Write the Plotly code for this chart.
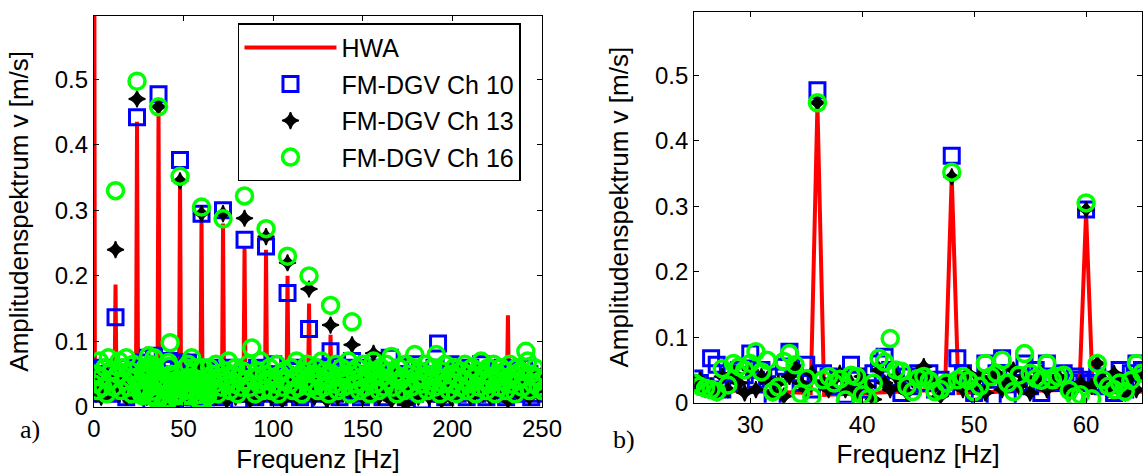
import plotly.graph_objects as go

# frequency grids [Hz]: coarse below 25 Hz, 0.5 Hz in the zoom window, 1 Hz above
freq_low = [f for f in range(0, 25)]
freq_zoom = [25 + 0.5 * i for i in range(81)]
freq_high = [f for f in range(66, 251)]

# HWA reference spectrum
hwa_freq = [0, 0.5, 11.4, 12, 12.6, 23.4, 24, 24.6, 35.4, 36, 36.6, 47.4, 48, 48.6,
            59.4, 60, 60.6, 71.4, 72, 72.6, 83.4, 84, 84.6, 95.4, 96, 96.6, 107.4, 108, 108.6,
            119.4, 120, 120.6, 131.4, 132, 132.6, 143.4, 144, 144.6, 155.4, 156, 156.6,
            211.4, 212, 212.6, 230.4, 231, 231.6, 250]
hwa_amp = [1.0, 0.02, 0.015, 0.187, 0.015, 0.02, 0.435, 0.02, 0.015, 0.455, 0.012, 0.02, 0.345, 0.015,
           0.02, 0.29, 0.015, 0.02, 0.28, 0.015, 0.02, 0.245, 0.015, 0.02, 0.24, 0.015, 0.02, 0.2, 0.015,
           0.02, 0.158, 0.015, 0.02, 0.11, 0.015, 0.02, 0.07, 0.015, 0.02, 0.055, 0.015,
           0.02, 0.06, 0.015, 0.02, 0.14, 0.015, 0.02]

# FM-DGV channel 10
ch10_low = [0.04, 0.03, 0.05, 0.02, 0.035, 0.06, 0.025, 0.045, 0.03, 0.05, 0.02, 0.04, 0.137,
            0.03, 0.05, 0.025, 0.04, 0.06, 0.015, 0.035, 0.045, 0.02, 0.05, 0.03, 0.442]
ch10_zoom = [0.037, 0.03, 0.025, 0.068, 0.058, 0.02, 0.045, 0.03, 0.05, 0.042,
             0.075, 0.035, 0.05, 0.028, 0.007, 0.04, 0.055, 0.078, 0.045, 0.03,
             0.058, 0.02, 0.477, 0.045, 0.04, 0.025, 0.035, 0.012, 0.058, 0.04,
             0.02, 0.03, 0.045, 0.06, 0.07, 0.05, 0.03, 0.015, 0.04, 0.025,
             0.045, 0.03, 0.045, 0.02, 0.035, 0.025, 0.377, 0.068, 0.045, 0.03,
             0.015, 0.008, 0.06, 0.035, 0.045, 0.068, 0.006, 0.04, 0.03, 0.06,
             0.025, 0.05, 0.015, 0.06, 0.04, 0.03, 0.045, 0.03, 0.04, 0.035,
             0.295, 0.03, 0.04, 0.025, 0.035, 0.015, 0.05, 0.02, 0.045, 0.06, 0.05]
ch10_high = [0.04, 0.02, 0.055, 0.03, 0.045, 0.015, 0.30, 0.035, 0.05, 0.025,
             0.04, 0.06, 0.02, 0.035, 0.05, 0.01, 0.045, 0.03, 0.255, 0.04,
             0.02, 0.055, 0.035, 0.045, 0.015, 0.06, 0.03, 0.04, 0.025, 0.05,
             0.245, 0.035, 0.02, 0.045, 0.065, 0.03, 0.04, 0.015, 0.05, 0.035,
             0.025, 0.045, 0.174, 0.03, 0.055, 0.02, 0.04, 0.06, 0.035, 0.015,
             0.045, 0.03, 0.05, 0.025, 0.119, 0.04, 0.02, 0.055, 0.035, 0.045,
             0.01, 0.04, 0.03, 0.06, 0.025, 0.045, 0.085, 0.035, 0.02, 0.05,
             0.04, 0.015, 0.055, 0.03, 0.045, 0.025, 0.04, 0.06, 0.07, 0.02,
             0.05, 0.03, 0.045, 0.015, 0.04, 0.06, 0.025, 0.035, 0.05, 0.02,
             0.06, 0.04, 0.025, 0.05, 0.03, 0.015, 0.045, 0.035, 0.055, 0.075,
             0.03, 0.04, 0.02, 0.05, 0.035, 0.06, 0.025, 0.045, 0.015, 0.04,
             0.05, 0.03, 0.065, 0.02, 0.045, 0.035, 0.055, 0.01, 0.04, 0.03,
             0.05, 0.025, 0.045, 0.035, 0.06, 0.02, 0.097, 0.04, 0.03, 0.05,
             0.015, 0.045, 0.035, 0.065, 0.025, 0.04, 0.055, 0.02, 0.035, 0.045,
             0.03, 0.05, 0.015, 0.04, 0.06, 0.025, 0.045, 0.035, 0.02, 0.05,
             0.065, 0.03, 0.04, 0.015, 0.055, 0.035, 0.045, 0.025, 0.05, 0.02,
             0.04, 0.03, 0.06, 0.035, 0.015, 0.05, 0.045, 0.025, 0.04, 0.03,
             0.055, 0.02, 0.045, 0.035, 0.06, 0.025, 0.04, 0.05, 0.015, 0.03,
             0.045, 0.035, 0.02, 0.04, 0.045]

# FM-DGV channel 13
ch13_low = [0.03, 0.02, 0.045, 0.035, 0.015, 0.04, 0.03, 0.05, 0.02, 0.035, 0.045, 0.025, 0.24,
            0.04, 0.02, 0.035, 0.05, 0.03, 0.015, 0.045, 0.025, 0.04, 0.02, 0.035, 0.47]
ch13_zoom = [0.03, 0.035, 0.02, 0.025, 0.015, 0.04, 0.02, 0.045, 0.03, 0.015,
             0.05, 0.02, 0.04, 0.035, 0.015, 0.03, 0.01, 0.04, 0.055, 0.03,
             0.02, 0.045, 0.458, 0.03, 0.02, 0.035, 0.045, 0.02, 0.03, 0.015,
             0.04, 0.025, 0.005, 0.05, 0.03, 0.02, 0.04, 0.025, 0.015, 0.035,
             0.045, 0.055, 0.03, 0.025, 0.01, 0.035, 0.345, 0.03, 0.02, 0.045,
             0.025, 0.04, 0.015, 0.035, 0.045, 0.02, 0.03, 0.05, 0.025, 0.04,
             0.015, 0.035, 0.045, 0.02, 0.03, 0.04, 0.025, 0.015, 0.02, 0.03,
             0.295, 0.025, 0.06, 0.035, 0.02, 0.045, 0.03, 0.015, 0.04, 0.02, 0.045]
ch13_high = [0.025, 0.04, 0.015, 0.05, 0.03, 0.02, 0.295, 0.045, 0.01, 0.035,
             0.02, 0.045, 0.03, 0.015, 0.04, 0.025, 0.05, 0.02, 0.288, 0.035,
             0.045, 0.01, 0.03, 0.04, 0.025, 0.05, 0.015, 0.035, 0.045, 0.02,
             0.26, 0.03, 0.045, 0.015, 0.035, 0.05, 0.02, 0.04, 0.025, 0.01,
             0.045, 0.03, 0.22, 0.04, 0.02, 0.05, 0.03, 0.015, 0.045, 0.035,
             0.02, 0.04, 0.025, 0.05, 0.18, 0.03, 0.045, 0.015, 0.04, 0.025,
             0.05, 0.02, 0.035, 0.045, 0.01, 0.03, 0.125, 0.04, 0.025, 0.045,
             0.015, 0.035, 0.05, 0.02, 0.04, 0.03, 0.045, 0.025, 0.095, 0.035,
             0.02, 0.045, 0.03, 0.05, 0.015, 0.04, 0.025, 0.035, 0.045, 0.02,
             0.082, 0.03, 0.045, 0.015, 0.04, 0.025, 0.05, 0.02, 0.035, 0.045,
             0.01, 0.04, 0.03, 0.05, 0.02, 0.035, 0.045, 0.025, 0.005, 0.04,
             0.03, 0.05, 0.02, 0.045, 0.035, 0.015, 0.04, 0.03, 0.05, 0.025,
             0.04, 0.015, 0.035, 0.05, 0.02, 0.045, 0.03, 0.04, 0.01, 0.035,
             0.05, 0.025, 0.04, 0.015, 0.045, 0.03, 0.02, 0.05, 0.035, 0.04,
             0.025, 0.045, 0.03, 0.055, 0.015, 0.04, 0.02, 0.035, 0.05, 0.03,
             0.045, 0.02, 0.04, 0.03, 0.05, 0.015, 0.035, 0.045, 0.025, 0.04,
             0.03, 0.05, 0.02, 0.045, 0.035, 0.01, 0.04, 0.025, 0.05, 0.03,
             0.04, 0.02, 0.045, 0.035, 0.055, 0.03, 0.045, 0.015, 0.04, 0.025,
             0.035, 0.05, 0.02, 0.04, 0.05]

# FM-DGV channel 16
ch16_low = [0.035, 0.05, 0.025, 0.07, 0.045, 0.03, 0.06, 0.02, 0.075, 0.04, 0.055, 0.03, 0.33,
            0.05, 0.07, 0.025, 0.06, 0.04, 0.075, 0.03, 0.055, 0.02, 0.065, 0.045, 0.497]
ch16_zoom = [0.03, 0.025, 0.022, 0.02, 0.017, 0.052, 0.027, 0.06, 0.055, 0.05,
             0.06, 0.078, 0.047, 0.065, 0.017, 0.024, 0.063, 0.075, 0.058, 0.014,
             0.037, 0.009, 0.458, 0.035, 0.04, 0.03, 0.036, 0.004, 0.042, 0.04,
             0.012, 0.006, 0.03, 0.068, 0.062, 0.098, 0.05, 0.048, 0.025, 0.017,
             0.037, 0.04, 0.034, 0.017, 0.02, 0.03, 0.352, 0.035, 0.04, 0.034,
             0.017, 0.025, 0.06, 0.04, 0.045, 0.065, 0.03, 0.017, 0.042, 0.075,
             0.045, 0.037, 0.034, 0.06, 0.035, 0.04, 0.042, 0.019, 0.009, 0.012,
             0.305, 0.006, 0.06, 0.035, 0.025, 0.02, 0.03, 0.017, 0.034, 0.06, 0.045]
ch16_high = [0.05, 0.035, 0.065, 0.02, 0.045, 0.03, 0.287, 0.055, 0.04, 0.07,
             0.025, 0.05, 0.035, 0.06, 0.02, 0.045, 0.03, 0.055, 0.322, 0.04,
             0.065, 0.03, 0.09, 0.045, 0.02, 0.055, 0.035, 0.07, 0.025, 0.05,
             0.272, 0.04, 0.06, 0.025, 0.045, 0.035, 0.065, 0.02, 0.05, 0.03,
             0.055, 0.04, 0.23, 0.035, 0.06, 0.025, 0.045, 0.07, 0.03, 0.05,
             0.02, 0.055, 0.04, 0.065, 0.20, 0.03, 0.05, 0.035, 0.06, 0.025,
             0.045, 0.07, 0.03, 0.055, 0.04, 0.02, 0.155, 0.05, 0.035, 0.065,
             0.025, 0.045, 0.06, 0.03, 0.05, 0.04, 0.07, 0.02, 0.13, 0.055,
             0.035, 0.06, 0.025, 0.045, 0.065, 0.03, 0.05, 0.04, 0.02, 0.055,
             0.07, 0.035, 0.05, 0.025, 0.06, 0.045, 0.03, 0.065, 0.04, 0.055,
             0.077, 0.03, 0.05, 0.02, 0.06, 0.04, 0.045, 0.025, 0.065, 0.035,
             0.05, 0.03, 0.06, 0.08, 0.04, 0.02, 0.055, 0.035, 0.045, 0.065,
             0.025, 0.05, 0.04, 0.06, 0.03, 0.08, 0.045, 0.02, 0.055, 0.035,
             0.065, 0.04, 0.025, 0.05, 0.035, 0.06, 0.02, 0.045, 0.03, 0.055,
             0.04, 0.065, 0.025, 0.05, 0.035, 0.06, 0.045, 0.02, 0.055, 0.03,
             0.07, 0.04, 0.05, 0.025, 0.06, 0.035, 0.045, 0.065, 0.02, 0.05,
             0.03, 0.06, 0.04, 0.055, 0.025, 0.045, 0.065, 0.035, 0.05, 0.02,
             0.06, 0.04, 0.055, 0.03, 0.045, 0.085, 0.07, 0.025, 0.05, 0.035,
             0.06, 0.045, 0.03, 0.04, 0.025]

freq = freq_low + freq_zoom + freq_high
ch10 = ch10_low + ch10_zoom + ch10_high
ch13 = ch13_low + ch13_zoom + ch13_high
ch16 = ch16_low + ch16_zoom + ch16_high

FONT = "Liberation Sans, Arial, sans-serif"

fig = go.Figure()

for xa, ya, show in [("x", "y", True), ("x2", "y2", False)]:
    fig.add_trace(go.Scatter(x=hwa_freq, y=hwa_amp, mode="lines", name="HWA",
                             line=dict(color="#FF0000", width=4),
                             xaxis=xa, yaxis=ya, showlegend=show, legendgroup="a"))
    fig.add_trace(go.Scatter(x=freq, y=ch10, mode="markers", name="FM-DGV Ch 10",
                             marker=dict(symbol="square-open", size=15, color="#0000FF",
                                         line=dict(width=3, color="#0000FF")),
                             xaxis=xa, yaxis=ya, showlegend=show, legendgroup="b"))
    fig.add_trace(go.Scatter(x=freq, y=ch13, mode="markers", name="FM-DGV Ch 13",
                             marker=dict(symbol="star-diamond", size=12, color="black",
                                         line=dict(width=1.5, color="black")),
                             xaxis=xa, yaxis=ya, showlegend=show, legendgroup="c"))
    fig.add_trace(go.Scatter(x=freq, y=ch16, mode="markers", name="FM-DGV Ch 16",
                             marker=dict(symbol="circle-open", size=16, color="#00FF00",
                                         line=dict(width=3.5, color="#00FF00")),
                             xaxis=xa, yaxis=ya, showlegend=show, legendgroup="d"))

axis_style = dict(showline=True, linecolor="black", linewidth=1.3, mirror="ticks",
                  ticks="inside", ticklen=5, tickwidth=1, tickcolor="black",
                  showgrid=False, zeroline=False, automargin=False,
                  tickfont=dict(family=FONT, size=24, color="black"))
title_font = dict(family=FONT, size=26, color="black")
yticks = [0, 0.1, 0.2, 0.3, 0.4, 0.5]
ytext = ["0", "0.1", "0.2", "0.3", "0.4", "0.5"]

fig.update_layout(
    width=1148, height=474,
    margin=dict(l=0, r=0, t=0, b=0),
    paper_bgcolor="white", plot_bgcolor="white",
    xaxis=dict(domain=[0.0819, 0.4721], anchor="y", range=[0, 250],
               tickvals=[0, 50, 100, 150, 200, 250],
               title=dict(text="Frequenz [Hz]", font=title_font, standoff=8), **axis_style),
    yaxis=dict(domain=[0.1414, 0.9669], anchor="x", range=[0, 0.597],
               tickvals=yticks, ticktext=ytext,
               title=dict(text="Amplitudenspektrum v [m/s]", font=title_font, standoff=18), **axis_style),
    xaxis2=dict(domain=[0.6048, 0.9948], anchor="y2", range=[25, 65],
                tickvals=[30, 40, 50, 60],
                title=dict(text="Frequenz [Hz]", font=title_font, standoff=8), **axis_style),
    yaxis2=dict(domain=[0.1504, 0.9753], anchor="x2", range=[0, 0.597],
                tickvals=yticks, ticktext=ytext,
                title=dict(text="Amplitudenspektrum v [m/s]", font=title_font, standoff=18), **axis_style),
    legend=dict(x=0.2073, y=0.9508, xanchor="left", yanchor="top",
                bgcolor="white", bordercolor="black", borderwidth=1.5,
                font=dict(family=FONT, size=25, color="black"),
                itemwidth=92, tracegroupgap=1),
    annotations=[
        dict(text="a)", x=0.016, y=0.093, xref="paper", yref="paper", xanchor="left",
             yanchor="middle", showarrow=False,
             font=dict(family="Liberation Serif, Times New Roman, serif", size=26, color="black")),
        dict(text="b)", x=0.532, y=0.072, xref="paper", yref="paper", xanchor="left",
             yanchor="middle", showarrow=False,
             font=dict(family="Liberation Serif, Times New Roman, serif", size=26, color="black")),
    ],
)

fig.write_html("out.html", config={"displayModeBar": False},
               post_script="document.body.style.margin='0';")
